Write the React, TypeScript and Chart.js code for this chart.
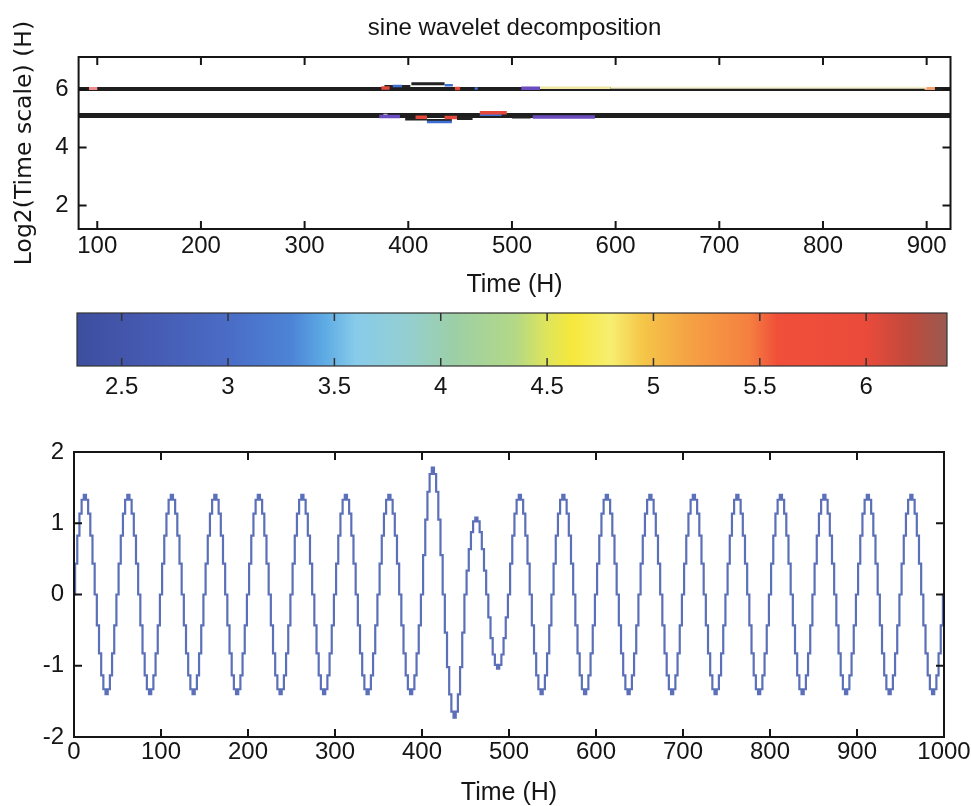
import React, { useEffect, useRef } from 'react';
import { Chart, registerables } from 'chart.js';

Chart.register(...registerables);

// ---------------- data ----------------
// Top panel: wavelet ridge lines (time in H, log2 scale)
const topTimeTicks = [100, 200, 300, 400, 500, 600, 700, 800, 900];
const topScaleTicks = [2, 4, 6];
const topTimeMin = 82;
const topTimeMax = 923;
const topScaleMin = 1.19;
const topScaleMax = 7.12;

// ridge segments: start time, end time, log2 scale, tone
const ridgeStart = [82, 92, 374, 377, 385, 403, 435, 445, 464, 509, 527, 595, 898,
  82, 372, 376, 397, 407, 418, 418, 435, 447, 469, 469, 500, 520];
const ridgeEnd = [923, 100, 382, 402, 394, 435, 443, 450, 467, 527, 595, 900, 908,
  923, 392, 380, 418, 418, 442, 442, 447, 462, 495, 490, 518, 580];
const ridgeScale = [6.02, 6.03, 6.05, 6.1, 6.12, 6.2, 6.15, 6.03, 6.03, 6.04, 6.06, 6.06, 6.03,
  5.1, 5.07, 5.11, 4.98, 5.04, 4.88, 4.93, 5.03, 5.0, 5.2, 5.13, 5.05, 5.05];
const ridgeTone = ['ridge', 'pink', 'red', 'black', 'blue', 'black', 'blue', 'red', 'blue', 'purple', 'pale', 'paleFaint', 'orange',
  'ridgeThick', 'purple', 'gray', 'black', 'red', 'blue', 'black', 'red', 'black', 'red', 'blue', 'black', 'purple'];

// Colorbar
const colorbarTicks = [2.5, 3, 3.5, 4, 4.5, 5, 5.5, 6];
const colorbarMin = 2.29;
const colorbarMax = 6.38;
const colorbarStopValues = [2.29, 2.6, 3.0, 3.3, 3.45, 3.6, 3.85, 4.05, 4.35, 4.5, 4.62, 4.8, 4.95, 5.15, 5.45, 5.58, 6.0, 6.2, 6.38];
const colorbarStopColors = ['#3d4e9e', '#4559b0', '#4a6cc6', '#4d84d6', '#5caae4', '#88cbea', '#94cfd0', '#9ccfa8', '#b3d886', '#dfe55a',
  '#f6e83c', '#f7ee70', '#f5c648', '#f5a444', '#f58040', '#f0503a', '#ea4a3a', '#c04a3c', '#9a5a50'];

// Bottom panel: sine signal
const signalTimeTicks = [0, 100, 200, 300, 400, 500, 600, 700, 800, 900, 1000];
const signalValueTicks = [-2, -1, 0, 1, 2];
const cycleLength = 50; // H
const cycleShape = [0, 0.31, 0.59, 0.81, 0.95, 1, 0.95, 0.81, 0.59, 0.31,
  0, -0.31, -0.59, -0.81, -0.95, -1, -0.95, -0.81, -0.59, -0.31];
const halfCycleAmplitude = [
  1.4, 1.4, 1.4, 1.4, 1.4, 1.4, 1.4, 1.4, 1.4, 1.4,
  1.4, 1.4, 1.4, 1.4, 1.4, 1.4, 1.78, 1.73, 1.08, 1.04,
  1.4, 1.4, 1.4, 1.4, 1.4, 1.4, 1.4, 1.4, 1.4, 1.4,
  1.4, 1.4, 1.4, 1.4, 1.4, 1.4, 1.4, 1.4, 1.4, 1.4,
];

// ---------------- styles ----------------
const FONT = "'Liberation Sans', Arial, sans-serif";
const INK = '#151515';
const toneStyle: Record<string, { color: string; width: number; order: number }> = {
  ridge: { color: '#1e1e1e', width: 4, order: 10 },
  ridgeThick: { color: '#1e1e1e', width: 5, order: 10 },
  black: { color: '#222222', width: 3, order: 1 },
  red: { color: '#e5483a', width: 3.5, order: 0 },
  blue: { color: '#3e6fd2', width: 2.5, order: 0 },
  purple: { color: '#6a4cc0', width: 3.5, order: 0 },
  pale: { color: '#efe7a2', width: 2.5, order: 0 },
  paleFaint: { color: '#f4efcc', width: 2, order: 0 },
  pink: { color: '#ef8a8a', width: 3, order: 0 },
  gray: { color: '#c8c8c8', width: 3, order: 0 },
  orange: { color: '#f0a070', width: 3, order: 0 },
};

// Build sine points from the read shape and per-half-cycle amplitudes
const signalPoints: { x: number; y: number }[] = [];
for (let c = 0; c < halfCycleAmplitude.length / 2; c++) {
  for (let k = 0; k < cycleShape.length; k++) {
    const half = c * 2 + (k < cycleShape.length / 2 ? 0 : 1);
    signalPoints.push({
      x: c * cycleLength + (k * cycleLength) / cycleShape.length,
      y: cycleShape[k] * halfCycleAmplitude[half],
    });
  }
}
signalPoints.push({ x: (halfCycleAmplitude.length / 2) * cycleLength, y: cycleShape[0] });

// ---------------- plugins ----------------
const frameTicks = {
  id: 'frameTicks',
  afterDatasetsDraw(chart: any, _args: any, opts: any) {
    const { ctx, chartArea: a } = chart;
    const len = opts.length ?? 8;
    ctx.save();
    ctx.strokeStyle = opts.color ?? INK;
    ctx.lineWidth = opts.tickWidth ?? 2;
    ctx.beginPath();
    const xs = chart.scales.x;
    if (xs) {
      for (const t of xs.ticks) {
        const p = xs.getPixelForValue(t.value);
        if (p <= a.left + 1 || p >= a.right - 1) continue;
        ctx.moveTo(p, a.bottom);
        ctx.lineTo(p, a.bottom - len);
        ctx.moveTo(p, a.top);
        ctx.lineTo(p, a.top + len);
      }
    }
    const ys = chart.scales.y;
    if (ys && opts.yTicks !== false) {
      for (const t of ys.ticks) {
        const p = ys.getPixelForValue(t.value);
        if (p <= a.top + 1 || p >= a.bottom - 1) continue;
        ctx.moveTo(a.left, p);
        ctx.lineTo(a.left + len, p);
        ctx.moveTo(a.right, p);
        ctx.lineTo(a.right - len, p);
      }
    }
    ctx.stroke();
    ctx.lineWidth = opts.frameWidth ?? 2;
    ctx.strokeRect(a.left, a.top, a.right - a.left, a.bottom - a.top);
    ctx.restore();
  },
};

const colorbarFill = {
  id: 'colorbarFill',
  beforeDatasetsDraw(chart: any) {
    const { ctx, chartArea: a } = chart;
    const x = chart.scales.x;
    const g = ctx.createLinearGradient(a.left, 0, a.right, 0);
    colorbarStopValues.forEach((v, i) => {
      const p = (x.getPixelForValue(v) - a.left) / (a.right - a.left);
      g.addColorStop(Math.min(1, Math.max(0, p)), colorbarStopColors[i]);
    });
    ctx.save();
    ctx.fillStyle = g;
    ctx.fillRect(a.left, a.top, a.right - a.left, a.bottom - a.top);
    ctx.restore();
  },
};

const tickFont = { family: FONT, size: 24 };
const plainLabel = (v: any) => String(v);

function fixedTicks(values: number[]) {
  return (s: any) => {
    s.ticks = values.map((v) => ({ value: v }));
  };
}
function fixHeight(h: number) {
  return (s: any) => {
    s.height = h;
    s.paddingLeft = 0;
    s.paddingRight = 0;
  };
}
function fixWidth(w: number) {
  return (s: any) => {
    s.width = w;
    s.paddingTop = 0;
    s.paddingBottom = 0;
  };
}

export default function App() {
  const topRef = useRef<HTMLCanvasElement>(null);
  const barRef = useRef<HTMLCanvasElement>(null);
  const sigRef = useRef<HTMLCanvasElement>(null);

  useEffect(() => {
    document.body.style.margin = '0';
    Chart.defaults.font.family = FONT;
    Chart.defaults.color = INK;

    const topChart = new Chart(topRef.current as HTMLCanvasElement, {
      type: 'line',
      data: {
        datasets: ridgeStart.map((s, i) => {
          const st = toneStyle[ridgeTone[i]];
          return {
            data: [
              { x: s, y: ridgeScale[i] },
              { x: ridgeEnd[i], y: ridgeScale[i] },
            ],
            borderColor: st.color,
            borderWidth: st.width,
            borderCapStyle: 'butt',
            pointRadius: 0,
            order: st.order,
          };
        }),
      },
      options: {
        responsive: false,
        animation: false,
        events: [],
        layout: { padding: { left: 0, right: 20.5, top: 0, bottom: 0 }, autoPadding: false },
        plugins: {
          legend: { display: false },
          tooltip: { enabled: false },
          title: {
            display: true,
            text: 'sine wavelet decomposition',
            fullSize: false,
            color: INK,
            font: { family: FONT, size: 24, weight: 'normal' },
            padding: { top: 14, bottom: 14.2 },
          },
          frameTicks: { length: 8 },
        } as any,
        scales: {
          x: {
            type: 'linear',
            min: topTimeMin,
            max: topTimeMax,
            grid: { display: false, drawTicks: false },
            border: { display: false },
            afterBuildTicks: fixedTicks(topTimeTicks),
            afterFit: fixHeight(71),
            ticks: { autoSkip: false, maxRotation: 0, font: tickFont, color: INK, padding: 3, callback: plainLabel },
            title: { display: true, text: 'Time (H)', color: INK, font: { family: FONT, size: 25 }, padding: { top: 0, bottom: 0 } },
          },
          y: {
            type: 'linear',
            min: topScaleMin,
            max: topScaleMax,
            grid: { display: false, drawTicks: false },
            border: { display: false },
            afterBuildTicks: fixedTicks(topScaleTicks),
            afterFit: fixWidth(78.6),
            ticks: { autoSkip: false, font: tickFont, color: INK, padding: 10, callback: plainLabel },
            title: { display: true, text: 'Log2(Time scale) (H)', color: INK, font: { family: "'DejaVu Sans', sans-serif", size: 23.5 }, padding: { top: 10.5, bottom: 0 } },
          },
        },
      } as any,
      plugins: [frameTicks],
    } as any);

    const barChart = new Chart(barRef.current as HTMLCanvasElement, {
      type: 'line',
      data: { datasets: [{ data: [] }] },
      options: {
        responsive: false,
        animation: false,
        events: [],
        layout: { padding: { left: 77, right: 24, top: 13, bottom: 0 }, autoPadding: false },
        plugins: {
          legend: { display: false },
          tooltip: { enabled: false },
          frameTicks: { length: 8, yTicks: false, tickWidth: 1.5, frameWidth: 1.2, color: '#333' },
        } as any,
        scales: {
          x: {
            type: 'linear',
            min: colorbarMin,
            max: colorbarMax,
            grid: { display: false, drawTicks: false },
            border: { display: false },
            afterBuildTicks: fixedTicks(colorbarTicks),
            afterFit: fixHeight(44),
            ticks: { autoSkip: false, maxRotation: 0, font: tickFont, color: INK, padding: 7, callback: plainLabel },
          },
          y: { type: 'linear', min: 0, max: 1, display: false },
        },
      } as any,
      plugins: [colorbarFill, frameTicks],
    } as any);

    const sigChart = new Chart(sigRef.current as HTMLCanvasElement, {
      type: 'line',
      data: {
        datasets: [
          {
            data: signalPoints,
            borderColor: '#5b70b8',
            borderWidth: 2.2,
            stepped: 'middle',
            pointRadius: 0,
          },
        ],
      },
      options: {
        responsive: false,
        animation: false,
        events: [],
        layout: { padding: { left: 0, right: 27, top: 36, bottom: 0 }, autoPadding: false },
        plugins: {
          legend: { display: false },
          tooltip: { enabled: false },
          frameTicks: { length: 8 },
        } as any,
        scales: {
          x: {
            type: 'linear',
            min: 0,
            max: 1000,
            grid: { display: false, drawTicks: false },
            border: { display: false },
            afterBuildTicks: fixedTicks(signalTimeTicks),
            afterFit: fixHeight(69),
            ticks: { autoSkip: false, maxRotation: 0, font: tickFont, color: INK, padding: 1, callback: plainLabel },
            title: { display: true, text: 'Time (H)', color: INK, font: { family: FONT, size: 25, lineHeight: 1 }, padding: { top: 0, bottom: 0 } },
          },
          y: {
            type: 'linear',
            min: -2,
            max: 2,
            grid: { display: false, drawTicks: false },
            border: { display: false },
            afterBuildTicks: fixedTicks(signalValueTicks),
            afterFit: fixWidth(74),
            ticks: { autoSkip: false, font: tickFont, color: INK, padding: 10, callback: plainLabel },
          },
        },
      } as any,
      plugins: [frameTicks],
    } as any);

    return () => {
      topChart.destroy();
      barChart.destroy();
      sigChart.destroy();
    };
  }, []);

  return (
    <div style={{ position: 'relative', width: 971, height: 806, overflow: 'hidden', background: '#fff' }}>
      <canvas ref={topRef} width={971} height={300} style={{ position: 'absolute', left: 0, top: 0, display: 'block' }} />
      <canvas ref={barRef} width={971} height={110} style={{ position: 'absolute', left: 0, top: 300, display: 'block' }} />
      <canvas ref={sigRef} width={971} height={390} style={{ position: 'absolute', left: 0, top: 416, display: 'block' }} />
    </div>
  );
}
